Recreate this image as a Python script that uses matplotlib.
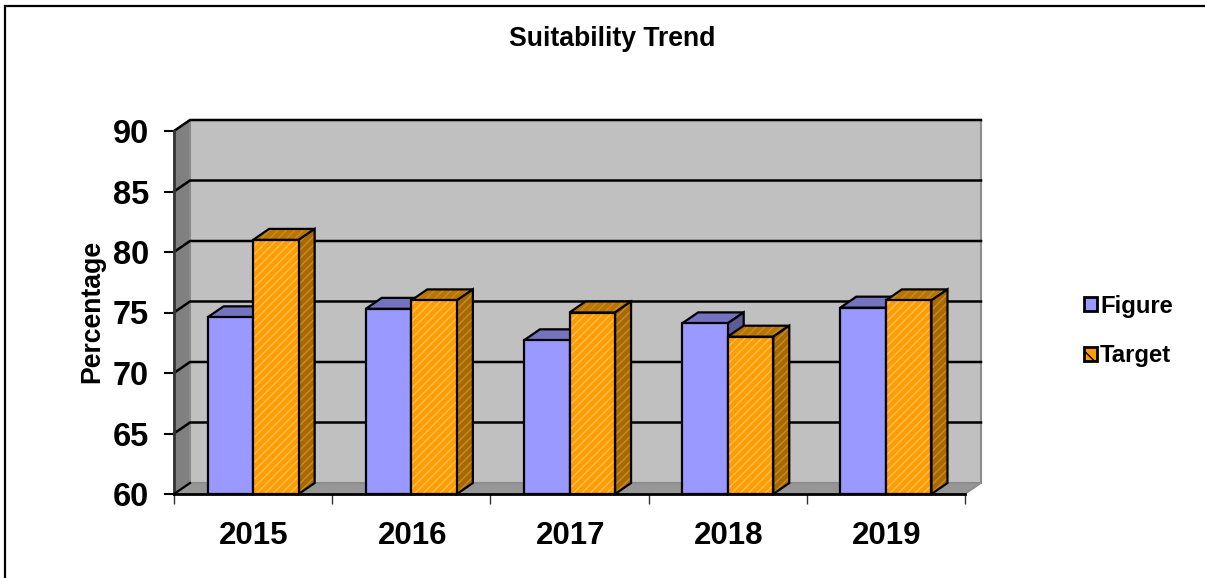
"""Suitability Trend: pseudo-3D clustered bars, drawn on a plain 2D axes."""

import matplotlib

matplotlib.use("Agg")
import matplotlib.pyplot as plt
from matplotlib.patches import Patch, Polygon, Rectangle

plt.rcParams["font.family"] = ["Liberation Sans", "DejaVu Sans"]
plt.rcParams["hatch.linewidth"] = 1.0

years = ["2015", "2016", "2017", "2018", "2019"]
figure_vals = [74.6, 75.3, 72.7, 74.1, 75.4]
target_vals = [81.0, 76.0, 75.0, 73.0, 76.0]
y_ticks = [60, 65, 70, 75, 80, 85, 90]

W, H = 1205, 578
LEFT, RIGHT, TOP, BOTTOM = 174, 965, 131, 494
BAR_W = 0.288
YMIN, YMAX = 60, 90
# depth of the fake 3D box, in axis units
DX = 16 / ((RIGHT - LEFT) / len(years))
DY = 11 / ((BOTTOM - TOP) / (YMAX - YMIN))

fig = plt.figure(figsize=(W / 100, H / 100), dpi=100)
fig.patch.set_facecolor("white")
fig.add_artist(Rectangle((5 / W, -0.01), 1.1, 1.01 - 5.5 / H, transform=fig.transFigure,
                         fill=False, ec="black", lw=1.6))

ax = fig.add_axes([LEFT / W, 1 - BOTTOM / H, (RIGHT - LEFT) / W, (BOTTOM - TOP) / H])
ax.set_xlim(0, len(years))
ax.set_ylim(YMIN, YMAX)
for s in ax.spines.values():
    s.set_visible(False)
ax.patch.set_visible(False)


def face(pts, color, z, hatch=None, hatch_color=None, lw=1.6, ec="black"):
    if hatch:
        ax.add_patch(Polygon(pts, closed=True, fc=color, ec=hatch_color, hatch=hatch, lw=0,
                             zorder=z, clip_on=False))
        color = "none"
    ax.add_patch(Polygon(pts, closed=True, fc=color, ec=ec, lw=lw, zorder=z, clip_on=False,
                         joinstyle="miter"))


n = len(years)
# walls and floor
face([(DX, YMIN + DY), (n + DX, YMIN + DY), (n + DX, YMAX + DY), (DX, YMAX + DY)], "#c0c0c0", 1,
     lw=1.5, ec="#8c8c8c")
face([(0, YMIN), (DX, YMIN + DY), (DX, YMAX + DY), (0, YMAX)], "#808080", 1, lw=1.2, ec="#8c8c8c")
face([(0, YMIN), (n, YMIN), (n + DX, YMIN + DY), (DX, YMIN + DY)], "#969696", 1, lw=1.2, ec="#8c8c8c")

# gridlines run along the back wall and down the side wall
for v in y_ticks:
    if v == YMIN:
        continue
    ax.plot([0, DX, n + DX], [v, v + DY, v + DY], color="black", lw=1.8, zorder=2,
            clip_on=False, solid_joinstyle="round")
ax.plot([0, 0], [YMIN, YMAX], color="#333333", lw=2.0, zorder=2, clip_on=False)
ax.plot([0, n], [YMIN, YMIN], color="black", lw=2.0, zorder=2, clip_on=False)
ax.plot([0, DX], [YMIN, YMIN + DY], color="black", lw=1.6, zorder=2, clip_on=False)


def bar3d(x0, val, front, top, side, z, hatch=None, hatch_color=None, dark_hatch=None):
    x1 = x0 + BAR_W
    face([(x0, YMIN), (x1, YMIN), (x1, val), (x0, val)], front, z + 0.2, hatch, hatch_color)
    face([(x0, val), (x1, val), (x1 + DX, val + DY), (x0 + DX, val + DY)], top, z, hatch, dark_hatch)
    face([(x1, YMIN), (x1 + DX, YMIN + DY), (x1 + DX, val + DY), (x1, val)], side, z + 0.1, hatch, dark_hatch)


for i in range(n):
    x_fig = i + 0.5 - BAR_W
    x_tgt = i + 0.5
    bar3d(x_fig, figure_vals[i], "#9999ff", "#7373bf", "#5c5c99", 3 + i)
    bar3d(x_tgt, target_vals[i], "#ff9c00", "#b87500", "#a86a00", 3.5 + i, hatch="////",
          hatch_color="#ffc05a", dark_hatch="#c98a2a")

ax.set_yticks(y_ticks)
ax.set_yticklabels([str(v) for v in y_ticks], fontsize=23.5, fontweight="bold")
ax.tick_params(axis="y", length=7, width=1.5, color="black", pad=11)
ax.set_xticks(range(n + 1))
ax.set_xticklabels([""] * (n + 1))
ax.tick_params(axis="x", length=7, width=1, color="#333333")
for i, yr in enumerate(years):
    ax.annotate(yr, (i + 0.5, YMIN), xytext=(1, -42), textcoords="offset pixels", ha="center",
                va="center", fontsize=22.5, fontweight="bold", annotation_clip=False)
ax.set_ylabel("Percentage", fontsize=19.2, fontweight="bold", labelpad=0)
ax.yaxis.set_label_coords(-69 / (RIGHT - LEFT), 0.503)

fig.text(612 / W, 1 - 39 / H, "Suitability Trend", ha="center", va="center", fontsize=19.2,
         fontweight="bold")

handles = [
    Patch(fc="#9999ff", ec="black", lw=2, label="Figure"),
    Patch(fc="#ff9c00", ec="black", lw=2, hatch="\\\\", label="Target"),
]
fig.legend(handles=handles, loc="center left", bbox_to_anchor=(1084 / W, 1 - 331 / H), frameon=False,
           prop={"size": 17.2, "weight": "bold"}, handlelength=0.56, handleheight=0.56,
           handletextpad=0.12, labelspacing=1.12, borderpad=0, borderaxespad=0)

fig.savefig("out.png", dpi=100)
